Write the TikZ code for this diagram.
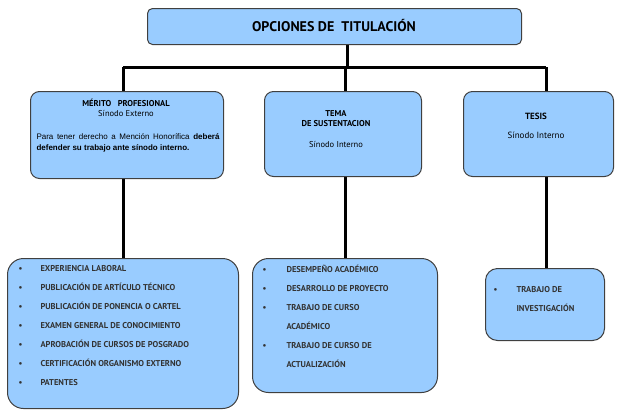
\documentclass[tikz,border=0pt]{standalone}
\usepackage{fontspec}
\setmainfont{PT Sans}
\newfontfamily\arialf{Liberation Sans}
\begin{document}
\begin{tikzpicture}[x=1pt,y=-1pt,
 box/.style={draw=black!75,line width=1pt,fill=boxblue,rounded corners=9pt,inner sep=0pt},
 conn/.style={line width=3pt,black},
 lst/.style={font=\fontsize{8.5}{19}\selectfont\bfseries,text=black!80,align=left,anchor=north west}]
\definecolor{boxblue}{HTML}{99CCFF}
\useasboundingbox (0,0) rectangle (624,418);
\fill[white] (0,0) rectangle (624,418);
% connectors
\coordinate (j) at (347,67);
\coordinate (l) at (123,67);
\coordinate (r) at (546,67);
\draw[conn] (347,40) -- (j);
\draw[conn] (l) -- (r);
\draw[conn] (l) -- (123,92);
\draw[conn] (345,67) -- (345,92);
\draw[conn] (r) -- (546,92);
\draw[conn] (123,175) -- (123,260);
\draw[conn] (345,175) -- (345,260);
\draw[conn] (546,175) -- (546,270);
% top
\node[box,minimum width=374,minimum height=36,anchor=north west,rounded corners=5pt] (top) at (147,8) {};
\node[font=\fontsize{14}{16}\selectfont\bfseries] (tt) at (334,26) {OPCIONES DE\ \ TITULACIÓN};
% row 2
\node[box,minimum width=193,minimum height=87,anchor=north west] (b1) at (30,91) {};
\node[font=\fontsize{8.5}{10}\selectfont,align=center,anchor=north] (b1t) at (126,96) {\textbf{MÉRITO\ \ \ PROFESIONAL}\\Sínodo Externo};
\node[font=\arialf\fontsize{8}{11}\selectfont,align=justify,text width=183,anchor=north west] (b1p) at (33,130) {Para tener derecho a Mención Honorífica \textbf{deberá defender su trabajo ante sínodo interno.}};
\node[box,minimum width=157,minimum height=85,anchor=north west] (b2) at (264,91) {};
\node[font=\fontsize{8.5}{10}\selectfont,align=center,anchor=north] (b2t) at (336,107) {\textbf{TEMA}\\\textbf{DE SUSTENTACION}\\[11pt]Sínodo Interno};
\node[box,minimum width=150,minimum height=85,anchor=north west] (b3) at (463,91) {};
\node[font=\fontsize{9}{11}\selectfont,align=center,anchor=north] (b3t) at (536,110) {\textbf{TESIS}\\[8pt]Sínodo Interno};
% row 3
\node[box,minimum width=231,minimum height=150,anchor=north west,rounded corners=16pt] (c1) at (7,258) {};
\node[lst] (c1t) at (15,262) {%
\makebox[22pt][l]{•}EXPERIENCIA LABORAL\\
\makebox[22pt][l]{•}PUBLICACIÓN DE ARTÍCULO TÉCNICO\\
\makebox[22pt][l]{•}PUBLICACIÓN DE PONENCIA O CARTEL\\
\makebox[22pt][l]{•}EXAMEN GENERAL DE CONOCIMIENTO\\
\makebox[22pt][l]{•}APROBACIÓN DE CURSOS DE POSGRADO\\
\makebox[22pt][l]{•}CERTIFICACIÓN ORGANISMO EXTERNO\\
\makebox[22pt][l]{•}PATENTES};
\node[box,minimum width=185,minimum height=134,anchor=north west,rounded corners=16pt] (c2) at (252,258) {};
\node[lst] (c2t) at (259,262) {%
\makebox[24pt][l]{•}DESEMPEÑO ACADÉMICO\\
\makebox[24pt][l]{•}DESARROLLO DE PROYECTO\\
\makebox[24pt][l]{•}TRABAJO DE CURSO\\
\makebox[24pt][l]{}ACADÉMICO\\
\makebox[24pt][l]{•}TRABAJO DE CURSO DE\\
\makebox[24pt][l]{}ACTUALIZACIÓN};
\node[box,minimum width=119,minimum height=72,anchor=north west,rounded corners=12pt] (c3) at (485,268) {};
\node[lst] (c3t) at (490,283) {%
\makebox[23pt][l]{•}TRABAJO DE\\
\makebox[23pt][l]{}INVESTIGACIÓN};
\end{tikzpicture}
\end{document}
